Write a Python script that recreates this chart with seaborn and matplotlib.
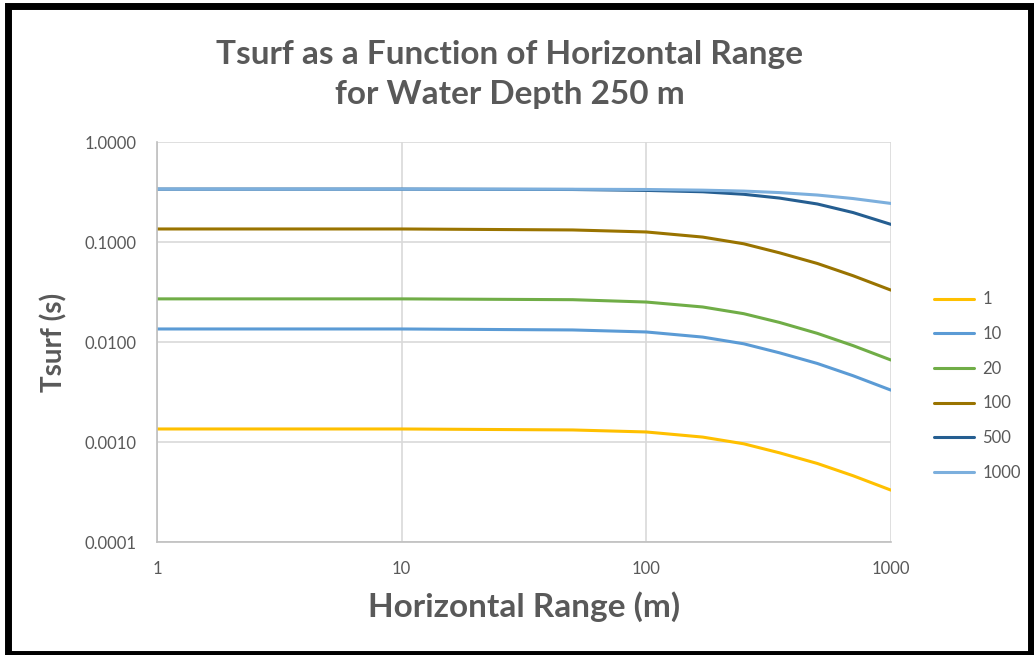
import numpy as np
import pandas as pd
import matplotlib.pyplot as plt
import seaborn as sns
from matplotlib.patches import Rectangle
from matplotlib.ticker import FixedLocator, FixedFormatter, NullLocator

rng = [1, 10, 50, 100, 170, 250, 350, 500, 700, 1000]

# Tsurf (s) per series
t_1 = [0.00135, 0.00135, 0.00132, 0.00126, 0.00112, 0.00096, 0.00078, 0.00061, 0.00046, 0.00033]
t_10 = [0.0135, 0.0135, 0.0132, 0.0126, 0.0112, 0.0096, 0.0078, 0.0061, 0.0046, 0.0033]
t_20 = [0.027, 0.027, 0.0265, 0.0251, 0.0224, 0.0192, 0.0157, 0.0122, 0.0092, 0.0066]
t_100 = [0.135, 0.135, 0.132, 0.126, 0.112, 0.096, 0.078, 0.061, 0.046, 0.033]
t_500 = [0.338, 0.338, 0.335, 0.328, 0.318, 0.300, 0.275, 0.240, 0.197, 0.150]
t_1000 = [0.338, 0.338, 0.337, 0.335, 0.330, 0.323, 0.312, 0.295, 0.272, 0.243]

series = ['1', '10', '20', '100', '500', '1000']
values = [t_1, t_10, t_20, t_100, t_500, t_1000]
colors = ['#FFC000', '#5B9BD5', '#70AD47', '#997300', '#255E91', '#7CAFDD']

ytick_vals = [0.0001, 0.001, 0.01, 0.1, 1.0]
xtick_vals = [1, 10, 100, 1000]

df = pd.DataFrame({
    'range': np.tile(rng, len(series)),
    'tsurf': np.concatenate(values),
    'series': np.repeat(series, len(rng)),
})

sns.set_style('white')
plt.rcParams['font.family'] = ['Lato', 'DejaVu Sans']
gray = '#595959'

fig = plt.figure(figsize=(10.34, 6.55), dpi=100)
ax = fig.add_axes([0.1518, 0.1725, 0.7099, 0.6107])

sns.lineplot(data=df, x='range', y='tsurf', hue='series', hue_order=series,
             palette=dict(zip(series, colors)), linewidth=2.2, ax=ax)

ax.set_xscale('log')
ax.set_yscale('log')
ax.set_xlim(1, 1000)
ax.set_ylim(0.0001, 1.0)

ax.xaxis.set_major_locator(FixedLocator(xtick_vals))
ax.xaxis.set_major_formatter(FixedFormatter([str(v) for v in xtick_vals]))
ax.xaxis.set_minor_locator(NullLocator())
ax.yaxis.set_major_locator(FixedLocator(ytick_vals))
ax.yaxis.set_major_formatter(FixedFormatter(['%.4f' % v for v in ytick_vals]))
ax.yaxis.set_minor_locator(NullLocator())

ax.grid(True, color='#D9D9D9', linewidth=1.2)
ax.set_axisbelow(True)
for s in ['top', 'right']:
    ax.spines[s].set_visible(False)
for s in ['left', 'bottom']:
    ax.spines[s].set_color('#BFBFBF')
    ax.spines[s].set_linewidth(1.2)

ax.tick_params(axis='both', length=0, labelsize=12, colors=gray)
ax.tick_params(axis='x', pad=14)
ax.tick_params(axis='y', pad=15)

ax.set_xlabel('Horizontal Range (m)', fontsize=24, fontweight='bold', color=gray, labelpad=10)
ax.set_ylabel('Tsurf (s)', fontsize=20, fontweight='bold', color=gray, labelpad=12)

fig.text(0.493, 0.886, 'Tsurf as a Function of Horizontal Range\nfor Water Depth 250 m',
         ha='center', va='center', fontsize=24, fontweight='bold', color=gray,
         linespacing=1.48)

leg = ax.legend(loc='center left', bbox_to_anchor=(1.038, 0.39), frameon=False,
                fontsize=12, labelspacing=1.12, handlelength=2.4, handletextpad=0.5)
for t in leg.get_texts():
    t.set_color(gray)

fig.patches.append(Rectangle((0.0082, 0.0015), 0.9888, 0.9886, transform=fig.transFigure,
                             fill=False, edgecolor='black', linewidth=5))

fig.savefig('out.png', dpi=100)
